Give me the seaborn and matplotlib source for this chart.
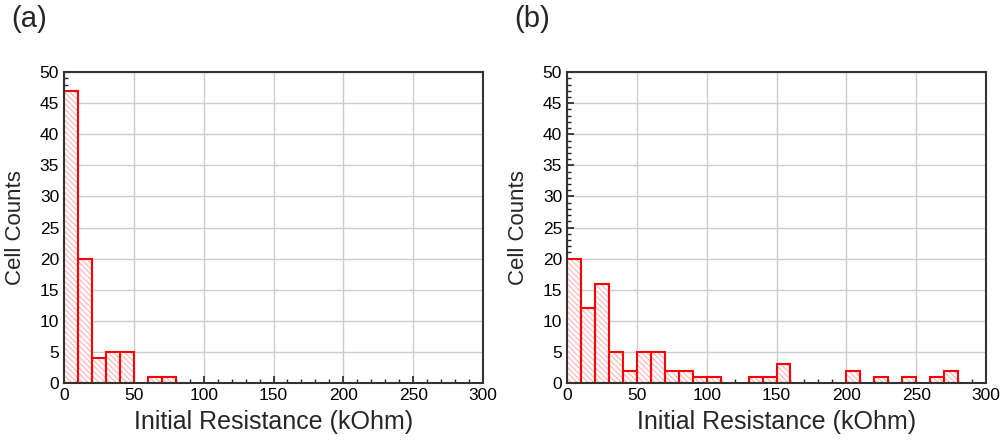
import numpy as np
import pandas as pd
import matplotlib
matplotlib.use("Agg")
import matplotlib.pyplot as plt
import seaborn as sns
from matplotlib.ticker import MultipleLocator

# Bin left edges (kOhm) and counts
bins_a = [0, 10, 20, 30, 40, 60, 70]
counts_a = [47, 20, 4, 5, 5, 1, 1]
bins_b = [0, 10, 20, 30, 40, 50, 60, 70, 80, 90, 100, 130, 140, 150,
          200, 220, 240, 260, 270]
counts_b = [20, 12, 16, 5, 2, 5, 5, 2, 2, 1, 1, 1, 1, 3,
            2, 1, 1, 1, 2]
panel_labels = ["(a)", "(b)"]
xlabel = "Initial Resistance (kOhm)"
ylabel = "Cell Counts"

sns.set_style("white")
plt.rcParams['font.family'] = ['Liberation Sans', 'DejaVu Sans']
plt.rcParams['hatch.linewidth'] = 0.7
plt.rcParams['hatch.color'] = '#ffaaaa'

fig = plt.figure(figsize=(10, 4.41), dpi=100)
edges = list(range(0, 300, 10))

positions = [[0.064, 0.1315, 0.419, 0.705], [0.567, 0.1315, 0.419, 0.705]]
datasets = [(bins_a, counts_a), (bins_b, counts_b)]

for pos, (bl, cnt), lab in zip(positions, datasets, panel_labels):
    ax = fig.add_axes(pos)
    df = pd.DataFrame({"x": np.array(bl, dtype=float) + 5, "w": cnt})
    ax.set_axisbelow(True)
    n0 = len(ax.patches)
    sns.histplot(data=df, x="x", weights="w", bins=edges, ax=ax,
                 color="white", linewidth=0, alpha=1)
    for p in ax.patches[n0:]:
        p.set_facecolor("white")
        p.set_edgecolor("#ffaaaa")
        p.set_linewidth(0)
        p.set_hatch("\\\\\\\\\\\\")
        if p.get_height() == 0:
            p.set_visible(False)
    n1 = len(ax.patches)
    sns.histplot(data=df, x="x", weights="w", bins=edges, ax=ax,
                 fill=False, color="#ff0000", linewidth=1.5)
    for p in ax.patches[n1:]:
        p.set_edgecolor("#ff0000")
        if p.get_height() == 0:
            p.set_visible(False)
    ax.set_xlim(0, 300)
    ax.set_ylim(0, 50)
    ax.xaxis.set_major_locator(MultipleLocator(50))
    ax.xaxis.set_minor_locator(MultipleLocator(10))
    ax.yaxis.set_major_locator(MultipleLocator(5))
    ax.yaxis.set_minor_locator(MultipleLocator(1))
    ax.grid(True, which="major", color="#cccccc", linewidth=1)
    ax.tick_params(which="both", direction="in", bottom=True, left=True,
                   top=False, right=False, labelsize=12.5,
                   colors="#222222", labelcolor="black")
    ax.tick_params(which="major", length=5, width=1.2)
    ax.tick_params(which="minor", length=3, width=1)
    for s in ax.spines.values():
        s.set_color("#333333")
        s.set_linewidth(1.5)
    ax.set_xlabel(xlabel, fontsize=18, labelpad=5)
    ax.set_ylabel(ylabel, fontsize=16, labelpad=10)
    fig.text(pos[0] - 0.053, 0.957, lab, fontsize=21, ha="left", va="center")

fig.savefig("out.png", dpi=100)
